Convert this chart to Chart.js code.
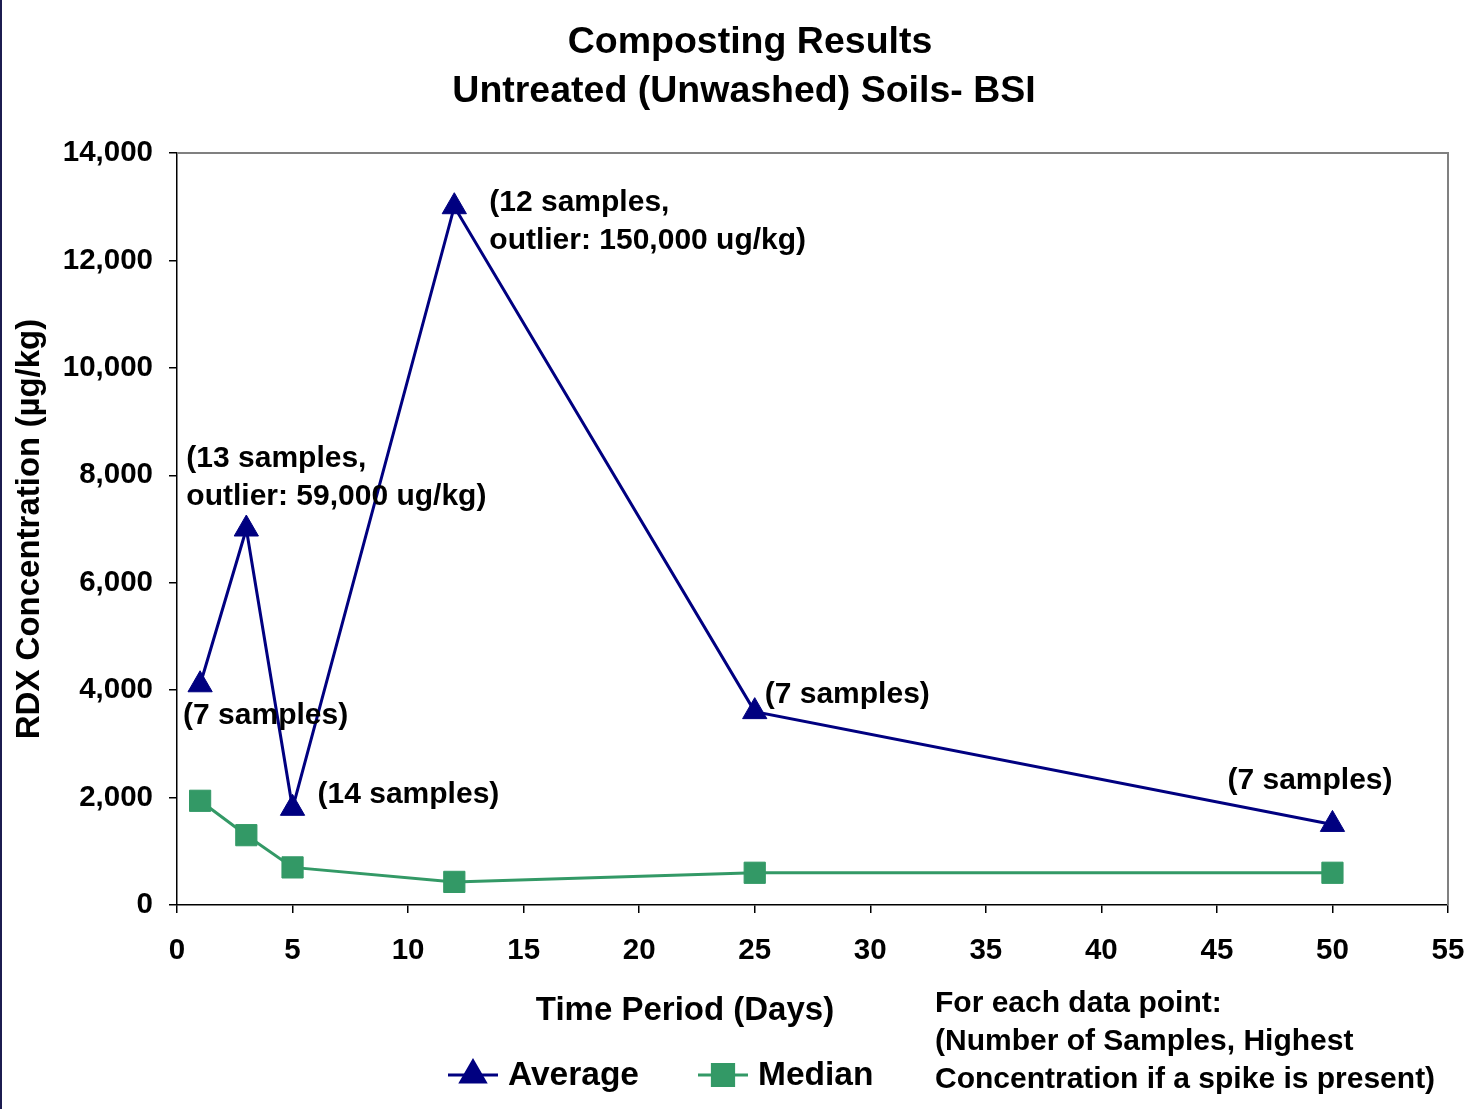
<!DOCTYPE html>
<html>
<head>
<meta charset="utf-8">
<script src="https://cdn.jsdelivr.net/npm/chart.js@4/dist/chart.umd.min.js"></script>
<style>
html,body{margin:0;padding:0;background:#fff;}
#wrap{width:1480px;height:1109px;position:relative;}
</style>
</head>
<body>
<div id="wrap"><canvas id="c" width="1480" height="1109"></canvas></div>
<script>
const days = [1, 3, 5, 12, 25, 50];
const averageValues = [4100, 7000, 1800, 13000, 3600, 1500];
const medianValues = [1940, 1300, 700, 430, 600, 600];
const xTicks = [0, 5, 10, 15, 20, 25, 30, 35, 40, 45, 50, 55];
const yTicks = [0, 2000, 4000, 6000, 8000, 10000, 12000, 14000];
const titleLines = ['Composting Results', 'Untreated (Unwashed) Soils- BSI'];
const xTitle = 'Time Period (Days)';
const yTitle = 'RDX Concentration (\u00B5g/kg)';
const seriesNames = ['Average', 'Median'];
const pointNotes = [
  ['(7 samples)'],
  ['(13 samples,', 'outlier: 59,000 ug/kg)'],
  ['(14 samples)'],
  ['(12 samples,', 'outlier: 150,000 ug/kg)'],
  ['(7 samples)'],
  ['(7 samples)']
];
const noteText = ['For each data point:', '(Number of Samples, Highest', 'Concentration if a spike is present)'];

// label offsets (pixels from the Average point)
const noteOffsets = [[-17, 31], [-60, -70], [25, -14], [35, -4], [10, -17], [-105, -44]];

const FONT = '"Liberation Sans", Arial, sans-serif';
const NAVY = '#000080';
const GREEN = '#339966';

const extras = {
  id: 'extras',
  beforeDraw(chart) {
    const ctx = chart.ctx;
    ctx.save();
    ctx.fillStyle = '#fff';
    ctx.fillRect(0, 0, chart.width, chart.height);
    ctx.fillStyle = '#1c1c50';
    ctx.fillRect(0, 0, 2, chart.height);
    ctx.restore();
  },
  afterDatasetsDraw(chart) {
    const ctx = chart.ctx;
    const ca = chart.chartArea;
    const xs = chart.scales.x, ys = chart.scales.y;
    ctx.save();
    // top & right frame
    ctx.strokeStyle = '#808080';
    ctx.lineWidth = 2;
    ctx.beginPath();
    ctx.moveTo(ca.left, ca.top);
    ctx.lineTo(ca.right, ca.top);
    ctx.lineTo(ca.right, ca.bottom);
    ctx.stroke();

    // titles
    ctx.fillStyle = '#000';
    ctx.textAlign = 'center';
    ctx.textBaseline = 'middle';
    ctx.font = 'bold 37.5px ' + FONT;
    ctx.fillText(titleLines[0], 750, 43);
    ctx.fillText(titleLines[1], 744, 92);

    // point notes
    ctx.font = 'bold 30px ' + FONT;
    ctx.textAlign = 'left';
    pointNotes.forEach((lines, i) => {
      const px = xs.getPixelForValue(days[i]);
      const py = ys.getPixelForValue(averageValues[i]);
      lines.forEach((t, j) => {
        ctx.fillText(t, px + noteOffsets[i][0], py + noteOffsets[i][1] + j * 38);
      });
    });

    // x title
    ctx.font = 'bold 33px ' + FONT;
    ctx.textAlign = 'center';
    ctx.fillText(xTitle, 685, 1011);

    // explanatory note
    ctx.font = 'bold 30px ' + FONT;
    ctx.textAlign = 'left';
    noteText.forEach((t, j) => ctx.fillText(t, 935, 1004 + j * 38));

    // legend
    const legendItems = [
      {x: 448, ds: chart.data.datasets[0]},
      {x: 698, ds: chart.data.datasets[1]}
    ];
    const ly = 1075;
    legendItems.forEach(it => {
      const ds = it.ds;
      ctx.strokeStyle = ds.borderColor;
      ctx.lineWidth = ds.borderWidth;
      ctx.beginPath();
      ctx.moveTo(it.x, ly);
      ctx.lineTo(it.x + 50, ly);
      ctx.stroke();
      Chart.helpers.drawPoint(ctx, {pointStyle: ds.pointStyle, radius: ds.pointRadius, borderWidth: 1, rotation: 0}, it.x + 25, ly);
      ctx.fillStyle = ds.pointBackgroundColor;
      ctx.fill();
      ctx.fillStyle = '#000';
      ctx.font = 'bold 33.5px ' + FONT;
      ctx.textAlign = 'left';
      ctx.fillText(ds.label, it.x + 60, ly + 1);
    });
    ctx.restore();
  }
};

function pts(vals) { return days.map((d, i) => ({x: d, y: vals[i]})); }

new Chart(document.getElementById('c'), {
  type: 'line',
  data: {
    datasets: [
      {
        label: seriesNames[0], data: pts(averageValues),
        borderColor: NAVY, backgroundColor: NAVY, borderWidth: 3,
        pointStyle: 'triangle', pointRadius: 14, pointBackgroundColor: NAVY, pointBorderColor: NAVY, pointBorderWidth: 1,
        tension: 0
      },
      {
        label: seriesNames[1], data: pts(medianValues),
        borderColor: GREEN, backgroundColor: GREEN, borderWidth: 3,
        pointStyle: 'rect', pointRadius: 15, pointBackgroundColor: GREEN, pointBorderColor: GREEN, pointBorderWidth: 1,
        tension: 0
      }
    ]
  },
  options: {
    responsive: false,
    animation: false,
    layout: {padding: {top: 153, right: 32, left: 0, bottom: 0}},
    plugins: {legend: {display: false}, title: {display: false}, tooltip: {enabled: false}},
    scales: {
      x: {
        type: 'linear', min: 0, max: 55,
        afterBuildTicks(s) { s.ticks = xTicks.map(v => ({value: v})); },
        afterFit(s) { s.height = 204; s.paddingLeft = 0; s.paddingRight = 0; },
        grid: {display: true, drawOnChartArea: false, drawTicks: true, tickLength: 8, color: '#000', lineWidth: 1.5},
        border: {display: true, color: '#000', width: 1.5},
        ticks: {color: '#000', font: {family: FONT, size: 29.5, weight: 'bold'}, padding: 20, maxRotation: 0, autoSkip: false}
      },
      y: {
        type: 'linear', min: 0, max: 14000,
        afterBuildTicks(s) { s.ticks = yTicks.map(v => ({value: v})); },
        afterFit(s) { s.width = 177; s.paddingTop = 0; s.paddingBottom = 0; },
        grid: {display: true, drawOnChartArea: false, drawTicks: true, tickLength: 8, color: '#000', lineWidth: 1.5},
        border: {display: true, color: '#000', width: 1.5},
        ticks: {color: '#000', font: {family: FONT, size: 29.5, weight: 'bold'}, padding: 16,
          callback: v => v.toLocaleString('en-US')},
        title: {display: true, text: yTitle, color: '#000', font: {family: FONT, size: 33, weight: 'bold'}, padding: {top: 10, bottom: 0}}
      }
    }
  },
  plugins: [extras]
});
</script>
</body>
</html>
